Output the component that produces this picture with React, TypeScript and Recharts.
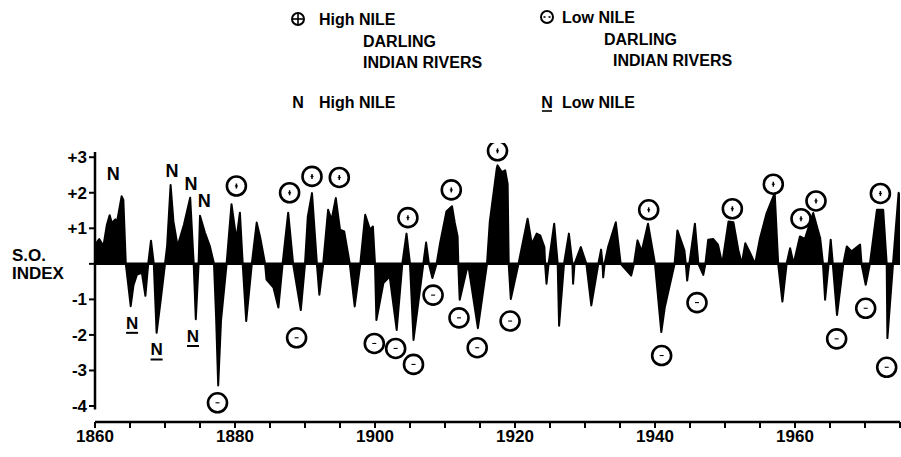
import { Area, ComposedChart, ReferenceLine, Scatter, XAxis, YAxis } from 'recharts';

// Southern Oscillation index (year, index)
const years = [
  1860.0, 1860.24, 1860.6, 1861.2, 1861.7, 1862.1, 1862.4, 1862.9, 1863.1, 1863.3, 1863.8, 1864.05, 1864.4,
  1864.7, 1865.1, 1865.5, 1866.0, 1866.7, 1867.2, 1867.6, 1868.0, 1868.4, 1868.8, 1869.4, 1870.0,
  1870.3, 1870.8, 1871.2, 1871.8, 1872.7, 1873.6, 1874.1, 1874.4, 1874.8, 1875.0, 1875.7, 1876.4, 1877.0,
  1877.3, 1877.6, 1878.0, 1878.8, 1879.5, 1880.2, 1880.7, 1881.1, 1881.6, 1882.4, 1883.1, 1883.6, 1884.3,
  1884.5, 1885.5, 1886.2, 1886.8, 1887.6, 1888.3, 1889.4, 1890.0, 1890.4, 1891.0, 1891.7, 1892.05, 1892.6,
  1893.3, 1893.8, 1894.4, 1895.0, 1895.6, 1896.4, 1897.1, 1897.9, 1898.6, 1899.3, 1899.7, 1900.0,
  1900.2, 1901.2, 1902.1, 1903.1, 1903.9, 1904.5, 1905.0, 1905.5, 1906.9, 1907.3, 1907.7, 1908.2, 1908.8,
  1909.3, 1910.2, 1911.0, 1911.4, 1911.8, 1911.9, 1912.1, 1913.3, 1914.7, 1916.0, 1916.4, 1917.4,
  1917.5, 1918.1, 1918.6, 1918.95, 1919.1, 1919.4, 1920.5, 1921.8, 1922.4, 1923.1, 1923.6, 1924.2, 1924.3,
  1924.5, 1924.8, 1925.6, 1926.1, 1926.3, 1927.0, 1927.7, 1928.2, 1928.3, 1928.5, 1929.4, 1930.2, 1930.9,
  1931.9, 1932.3, 1932.5, 1932.6, 1932.8, 1933.3, 1934.4, 1935.1, 1936.6, 1937.0, 1937.5, 1938.1, 1939.0,
  1940.0, 1940.9, 1941.4, 1942.8, 1943.2, 1944.2, 1944.4, 1944.6, 1944.9, 1945.7, 1946.2, 1946.9, 1947.2,
  1947.6, 1948.3, 1949.0, 1949.6, 1950.5, 1951.2, 1951.9, 1952.4, 1952.9, 1953.6, 1954.3, 1955.0, 1955.95,
  1957.1, 1957.6, 1958.2, 1958.8, 1959.3, 1959.8, 1960.7, 1961.4, 1962.6, 1963.6, 1964.0, 1964.3, 1964.8,
  1965.1, 1965.4, 1966.0, 1966.9, 1967.4, 1968.1, 1969.3, 1969.5, 1970.1, 1970.7, 1971.7, 1972.6, 1973.1,
  1973.2, 1974.0, 1974.8, 1975.0,
];
const soi = [
  0, 0.6, 0.7, 0.5, 1.1, 1.37, 1.15, 1.25, 1.15, 1.35, 1.9, 1.8, 0,
  -0.5, -1.19, -0.6, -0.3, -0.25, -0.9, 0, 0.65, 0, -1.94, -1.0, 0,
  0.5, 2.22, 1.2, 0.5, 1.1, 1.86, 0, -1.56, 0, 1.35, 0.88, 0.5, 0,
  -1.5, -3.42, -1.6, 0, 1.68, 0.69, 1.44, 0, -1.61, 0, 1.16, 0.74, 0,
  -0.44, -0.67, -1.23, 0, 1.44, 0, -1.3, 0, 1.33, 1.99, 0, -0.87, 0,
  1.52, 1.24, 1.85, 0.96, 0.91, 0, -1.2, 0, 1.38, 0.96, 1.05, 0,
  -1.58, -0.54, -0.36, -1.86, 0, 0.85, 0, -2.14, 0, 0.6, 0, -0.4, 0,
  0.58, 1.47, 1.62, 1.15, 0.77, 0, -1.01, 0, -1.81, 0, 1.19, 2.69,
  2.77, 2.58, 2.63, 2.25, 0, -0.99, 0, 1.27, 0.56, 0.85, 0.8, 0.47, 0,
  -0.56, 0, 1.13, 0, -1.74, 0, 0.85, 0, -0.56, 0, 0.47, 0, -1.17,
  0, 0.4, 0, -0.38, 0, 0.47, 1.17, 0, -0.33, 0, 0.66, 0.35, 1.13,
  0, -1.92, -1.22, 0, 0.94, 0.38, 0, -0.47, 0, 1.13, 0, -0.31, 0,
  0.68, 0.7, 0.54, 0, 1.19, 1.17, 0.39, 0, 0.58, 0.3, 0, 0.72, 1.43,
  1.99, 0, -1.06, 0, 0.44, 0, 0.77, 0.7, 1.43, 0.72, 0, -1.01, 0,
  0.68, 0, -1.44, 0, 0.49, 0.35, 0.54, 0, -0.59, 0, 1.52, 1.52, 0,
  -2.09, 0, 2.0, 1.9,
];

// circled marks: high / low Nile, Darling and Indian rivers
const highYears = [1880.2, 1887.8, 1891.0, 1894.9, 1904.7, 1910.9, 1917.5, 1939.1, 1951.05, 1956.9, 1960.86, 1963.0, 1972.2];
const highLevels = [2.19, 2.0, 2.46, 2.43, 1.3, 2.08, 3.18, 1.52, 1.55, 2.24, 1.27, 1.77, 1.98];
const lowYears = [1877.5, 1888.8, 1899.9, 1902.95, 1905.5, 1908.3, 1912.0, 1914.6, 1919.3, 1940.95, 1946.0, 1965.95, 1970.1, 1973.1];
const lowLevels = [-3.91, -2.08, -2.24, -2.38, -2.83, -0.88, -1.52, -2.36, -1.61, -2.58, -1.09, -2.11, -1.25, -2.91];
// N marks: Nile only
const nileHighYears = [1862.6, 1871.0, 1873.7, 1875.6];
const nileHighLevels = [2.52, 2.61, 2.24, 1.77];
const nileLowYears = [1865.3, 1868.8, 1874.0];
const nileLowLevels = [-1.66, -2.41, -2.03];

const xTicks = [1860, 1865, 1870, 1875, 1880, 1885, 1890, 1895, 1900, 1905, 1910, 1915, 1920, 1925, 1930, 1935, 1940, 1945, 1950, 1955, 1960, 1965, 1970, 1975];
const yTicks = [-4, -3, -2, -1, 0, 1, 2, 3];

const FONT = '"Liberation Sans", Arial, Helvetica, sans-serif';
const INK = '#000';

const seriesData = years.map((year, i) => ({ year, soi: soi[i] }));
const toPoints = (xs: number[], ys: number[]) => xs.map((year, i) => ({ year, value: ys[i] }));

function HighMark(props: any) {
  const { cx, cy } = props;
  return (
    <g>
      <circle cx={cx} cy={cy} r={9.5} fill="#fff" stroke={INK} strokeWidth={2.6} />
      <line x1={cx} y1={cy - 2.5} x2={cx} y2={cy + 2.5} stroke={INK} strokeWidth={1.5} />
      <line x1={cx - 1.5} y1={cy} x2={cx + 1.5} y2={cy} stroke={INK} strokeWidth={1.2} />
    </g>
  );
}

function LowMark(props: any) {
  const { cx, cy } = props;
  return (
    <g>
      <circle cx={cx} cy={cy} r={9.5} fill="#fff" stroke={INK} strokeWidth={2.6} />
      <line x1={cx - 2} y1={cy} x2={cx + 2} y2={cy} stroke={INK} strokeWidth={1.1} />
    </g>
  );
}

function NileHigh(props: any) {
  const { cx, cy } = props;
  return (
    <text x={cx} y={cy} dy={6} textAnchor="middle" fontFamily={FONT} fontWeight={700} fontSize={18} fill={INK}>
      N
    </text>
  );
}

function NileLow(props: any) {
  const { cx, cy } = props;
  return (
    <g>
      <text x={cx} y={cy} dy={6} textAnchor="middle" fontFamily={FONT} fontWeight={700} fontSize={17} fill={INK}>
        N
      </text>
      <line x1={cx - 6} y1={cy + 10} x2={cx + 6} y2={cy + 10} stroke={INK} strokeWidth={2} />
    </g>
  );
}

const yFmt = (v: number) => (v > 0 ? `+${v}` : v < 0 ? `-${Math.abs(v)}` : '');
const xFmt = (v: number) => (v % 20 === 0 ? String(v) : '');

function Legend() {
  const txt = { fontFamily: FONT, fontWeight: 700, fontSize: 16, fill: INK } as const;
  return (
    <svg width={901} height={457} style={{ position: 'absolute', left: 0, top: 0, pointerEvents: 'none' }}>
      <circle cx={298} cy={19} r={6} fill="none" stroke={INK} strokeWidth={2} />
      <line x1={298} y1={14} x2={298} y2={24} stroke={INK} strokeWidth={1.6} />
      <line x1={293} y1={19} x2={303} y2={19} stroke={INK} strokeWidth={1.6} />
      <text x={319} y={25} {...txt}>High NILE</text>
      <text x={363} y={47} {...txt}>DARLING</text>
      <text x={363} y={68} {...txt}>INDIAN RIVERS</text>

      <circle cx={547} cy={17} r={6} fill="none" stroke={INK} strokeWidth={2} />
      <line x1={543.5} y1={17} x2={545.5} y2={17} stroke={INK} strokeWidth={1.6} />
      <line x1={548.5} y1={17} x2={550.5} y2={17} stroke={INK} strokeWidth={1.6} />
      <text x={562} y={23} {...txt}>Low NILE</text>
      <text x={604} y={45} {...txt}>DARLING</text>
      <text x={613} y={66} {...txt}>INDIAN RIVERS</text>

      <text x={298} y={108} textAnchor="middle" {...txt}>N</text>
      <text x={319} y={108} {...txt}>High NILE</text>
      <text x={547} y={108} textAnchor="middle" {...txt}>N</text>
      <line x1={542} y1={111} x2={552} y2={111} stroke={INK} strokeWidth={1.6} />
      <text x={562} y={108} {...txt}>Low NILE</text>

      <text x={12} y={261} {...txt} fontSize={17}>S.O.</text>
      <text x={12} y={279} {...txt} fontSize={17}>INDEX</text>
    </svg>
  );
}

export default function App() {
  const tick = { fill: INK, fontSize: 17, fontWeight: 700, fontFamily: FONT };
  return (
    <div style={{ position: 'fixed', left: 0, top: 0, width: 901, height: 457, background: '#fff' }}>
      <ComposedChart width={901} height={457} data={seriesData} margin={{ top: 143, right: 1, bottom: 5, left: 35 }}>
        <XAxis
          type="number"
          dataKey="year"
          domain={[1860, 1975]}
          ticks={xTicks}
          interval={0}
          tickFormatter={xFmt}
          allowDataOverflow
          height={30}
          tick={tick}
          tickSize={6}
          tickMargin={2}
          axisLine={{ stroke: INK, strokeWidth: 2.5 }}
          tickLine={{ stroke: INK, strokeWidth: 2 }}
        />
        <YAxis
          type="number"
          domain={[-4.45, 3.4]}
          ticks={yTicks}
          interval={0}
          tickFormatter={yFmt}
          allowDataOverflow
          width={60}
          tick={tick}
          tickSize={6}
          tickMargin={2}
          axisLine={false}
          tickLine={{ stroke: INK, strokeWidth: 2 }}
        />
        <ReferenceLine
          segment={[{ x: 1860, y: -4.1 }, { x: 1860, y: 3.15 }]}
          stroke={INK}
          strokeWidth={2.5}
          ifOverflow="visible"
        />
        <Area
          type="linear"
          dataKey="soi"
          baseValue={0}
          stroke={INK}
          strokeWidth={2}
          strokeLinejoin="round"
          fill={INK}
          fillOpacity={1}
          isAnimationActive={false}
          dot={false}
          activeDot={false}
        />
        <ReferenceLine y={0} stroke={INK} strokeWidth={2.5} />
        <Scatter data={toPoints(highYears, highLevels)} dataKey="value" shape={HighMark} isAnimationActive={false} />
        <Scatter data={toPoints(lowYears, lowLevels)} dataKey="value" shape={LowMark} isAnimationActive={false} />
        <Scatter data={toPoints(nileHighYears, nileHighLevels)} dataKey="value" shape={NileHigh} isAnimationActive={false} />
        <Scatter data={toPoints(nileLowYears, nileLowLevels)} dataKey="value" shape={NileLow} isAnimationActive={false} />
      </ComposedChart>
      <Legend />
    </div>
  );
}
